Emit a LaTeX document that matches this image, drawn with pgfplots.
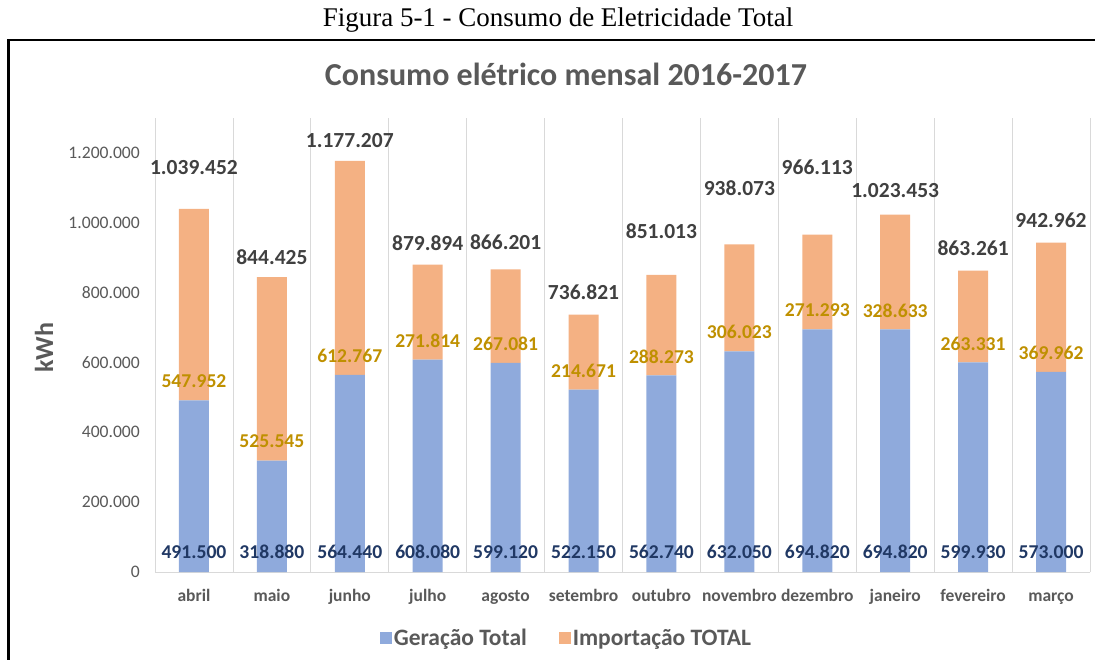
\documentclass[border=0pt]{standalone}
\usepackage{fontspec}
\setmainfont{Carlito}
\newfontfamily\capfont{Liberation Serif}
\usepackage{pgfplots}
\usepackage{pgfplotstable}
\pgfplotsset{compat=1.18}

\definecolor{gerblue}{HTML}{8FAADC}
\definecolor{imporange}{HTML}{F4B183}
\definecolor{txtgray}{HTML}{595959}
\definecolor{gridgray}{HTML}{D9D9D9}
\definecolor{navylbl}{HTML}{203864}
\definecolor{goldlbl}{HTML}{BF9000}
\definecolor{totgray}{HTML}{404040}

% x: month index, ger: own generation (kWh), imp: imported energy (kWh),
% off: distance (pt) of the total label above the bar
\pgfplotstableread{
x ger imp off
0 491500 547952 41
1 318880 525545 20
2 564440 612767 20
3 608080 271814 22
4 599120 267081 27
5 522150 214671 23
6 562740 288273 44
7 632050 306023 56
8 694820 271293 67
9 694820 328633 24
10 599930 263331 22
11 573000 369962 22
}\consumo

\pgfplotsset{
  painel/.style={
    scale only axis, width=935pt, height=454pt,
    at={(155pt,87pt)}, anchor=south west,
    xmin=-0.5, xmax=11.5, ymin=0, ymax=1300000,
  },
  rotulo/.style={
    draw=none, mark=none, point meta=explicit,
    nodes near coords={\pgfmathprintnumber[fixed, precision=0, 1000 sep={.}, assume math mode=true]{\pgfplotspointmeta}},
  },
  quadrado/.style={
    legend image code/.code={\fill[##1] (0pt,-6pt) rectangle (12pt,6pt);},
  },
}

\begin{document}
\begin{tikzpicture}
\path[use as bounding box] (0pt,0pt) rectangle (1095pt,659pt);

\node[anchor=base, font=\capfont\fontsize{27}{30}\selectfont, inner sep=0pt]
  at (558pt,632pt) {Figura 5-1 - Consumo de Eletricidade Total};
\draw[line width=2.5pt] (8.5pt,-5pt) -- (8.5pt,619pt) -- (1105pt,619pt);
\node[anchor=base, font=\bfseries\fontsize{32}{36}\selectfont, text=txtgray, inner sep=0pt]
  at (566pt,573pt) {Consumo elétrico mensal 2016-2017};
\node[rotate=90, font=\bfseries\fontsize{26}{30}\selectfont, text=txtgray, inner sep=0pt]
  at (44pt,311pt) {kWh};

\begin{axis}[painel,
  ybar stacked, bar width=30pt,
  axis x line*=bottom, axis y line*=left,
  y axis line style={draw=none},
  x axis line style={draw=gridgray, line width=0.8pt, -},
  major tick length=0pt, minor tick length=0pt,
  xtick={0,...,11},
  xticklabels={abril,maio,junho,julho,agosto,setembro,outubro,novembro,dezembro,janeiro,fevereiro,março},
  minor xtick={-0.5,0.5,...,11.5},
  xminorgrids, minor grid style={draw=gridgray, line width=0.8pt},
  scaled y ticks=false,
  ytick={0,200000,...,1200000},
  yticklabels={0,200.000,400.000,600.000,800.000,1.000.000,1.200.000},
  xticklabel style={font=\bfseries\fontsize{17.5}{20}\selectfont, text=txtgray, anchor=base, inner sep=0pt, yshift=-29pt},
  yticklabel style={font=\fontsize{17.6}{20}\selectfont, text=txtgray, anchor=east, inner sep=0pt, xshift=-15pt},
  legend columns=2,
  legend style={at={(0.44,-0.145)}, anchor=center, draw=none, fill=none,
    font=\bfseries\fontsize{23.5}{25}\selectfont, text=txtgray,
    /tikz/every even column/.append style={column sep=30pt}},
]
\addplot[quadrado, fill=gerblue, draw=none] table[x=x, y=ger] {\consumo};
\addlegendentry{Geração Total}
\addplot[quadrado, fill=imporange, draw=none] table[x=x, y=imp] {\consumo};
\addlegendentry{Importação TOTAL}
\end{axis}

\begin{axis}[painel, hide axis, clip=false]
\addplot[rotulo, nodes near coords style={font=\bfseries\fontsize{19.6}{20}\selectfont, text=navylbl, anchor=center, yshift=20pt}]
  table[x=x, y expr=0, meta=ger] {\consumo};
\addplot[rotulo, nodes near coords style={font=\bfseries\fontsize{19.6}{20}\selectfont, text=goldlbl, anchor=center, yshift=19pt}]
  table[x=x, y=ger, meta=imp] {\consumo};
\addplot[rotulo, visualization depends on={\thisrow{off} \as \loff},
  nodes near coords style={font=\bfseries\fontsize{21.5}{22}\selectfont, text=totgray, anchor=center, yshift=\loff pt}]
  table[x=x, y expr=\thisrow{ger}+\thisrow{imp}, meta expr=\thisrow{ger}+\thisrow{imp}] {\consumo};
\end{axis}
\end{tikzpicture}
\end{document}
